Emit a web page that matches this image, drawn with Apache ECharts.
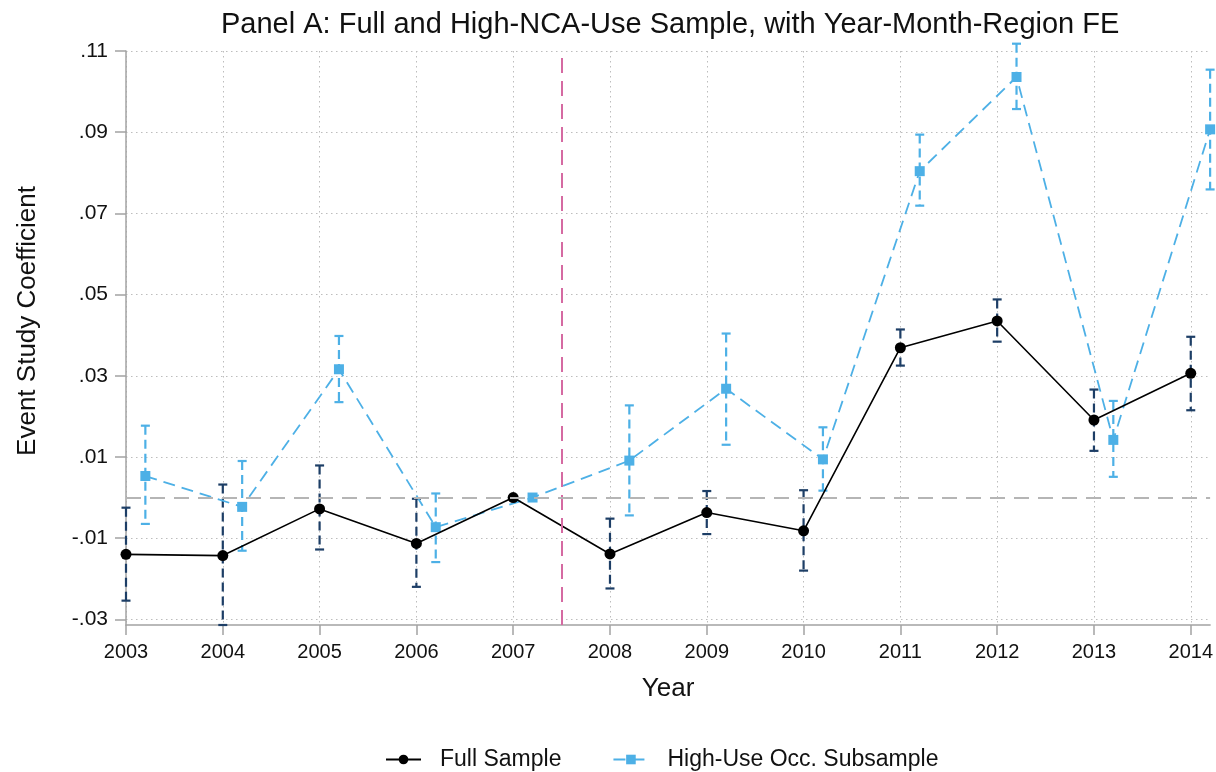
<!DOCTYPE html>
<html><head><meta charset="utf-8">
<script src="https://cdn.jsdelivr.net/npm/echarts@6/dist/echarts.min.js"></script>
<style>html,body{margin:0;padding:0;background:#fff}#c{width:1216px;height:772px}</style>
</head><body><div id="c"></div>
<script>
const years = [2003,2004,2005,2006,2007,2008,2009,2010,2011,2012,2013,2014];
const fullCoef = [-0.0140,-0.0143,-0.0028,-0.0113,0.0000,-0.0139,-0.0037,-0.0082,0.0369,0.0435,0.0191,0.0306];
const fullLo   = [-0.0254,-0.0314,-0.0128,-0.0220,null,-0.0224,-0.0090,-0.0180,0.0325,0.0384,0.0115,0.0215];
const fullHi   = [-0.0025,0.0032,0.0079,-0.0003,null,-0.0052,0.0016,0.0018,0.0414,0.0488,0.0266,0.0396];
const highCoef = [0.0053,-0.0023,0.0316,-0.0073,0.0000,0.0091,0.0268,0.0094,0.0804,0.1036,0.0142,0.0907];
const highLo   = [-0.0065,-0.0131,0.0235,-0.0159,null,-0.0044,0.0130,0.0017,0.0719,0.0957,0.0051,0.0759];
const highHi   = [0.0177,0.0090,0.0398,0.0010,null,0.0227,0.0404,0.0173,0.0894,0.1118,0.0238,0.1054];
const yTicks = [-0.03,-0.01,0.01,0.03,0.05,0.07,0.09,0.11];
const xTicks = years;
const highOffset = 0.2;
const treatLine = 2007.5;
const seriesNames = ['Full Sample','High-Use Occ. Subsample'];

const FONT = '"Liberation Sans", Arial, Helvetica, sans-serif';
const BLUE = '#4db0e6', NAVY = '#1d3e66', PINK = '#d56aa2';

const fullPts = years.map((y,i)=>[y, fullCoef[i]]);
const highPts = years.map((y,i)=>[y+highOffset, highCoef[i]]);
const fullErr = years.map((y,i)=>[y, fullLo[i], fullHi[i]]).filter(d=>d[1]!=null);
const highErr = years.map((y,i)=>[y+highOffset, highLo[i], highHi[i]]).filter(d=>d[1]!=null);

function errRender(color){
  return function(params, api){
    const x = api.value(0), lo = api.value(1), hi = api.value(2);
    const t = api.coord([x, hi]), b = api.coord([x, lo]);
    const w = 4.5;
    return {type:'group', children:[
      {type:'line', shape:{x1:t[0],y1:t[1],x2:b[0],y2:b[1]}, style:{stroke:color,lineWidth:2.2,lineDash:[9,5]}},
      {type:'line', shape:{x1:t[0]-w,y1:t[1],x2:t[0]+w,y2:t[1]}, style:{stroke:color,lineWidth:2.2}},
      {type:'line', shape:{x1:b[0]-w,y1:b[1],x2:b[0]+w,y2:b[1]}, style:{stroke:color,lineWidth:2.2}}
    ]};
  };
}

const chart = echarts.init(document.getElementById('c'), null, {renderer:'canvas'});
chart.setOption({
  animation:false,
  backgroundColor:'#fff',
  textStyle:{fontFamily:FONT},
  title:{text:'Panel A: Full and High-NCA-Use Sample, with Year-Month-Region FE', left:221, top:10, padding:0,
    textStyle:{fontFamily:FONT, fontSize:29, fontWeight:'normal', color:'#111'}},
  graphic:[{type:'text', x:28, y:321, rotation:Math.PI/2,
    style:{text:'Event Study Coefficient', fontFamily:FONT, fontSize:26, fill:'#111', textAlign:'center', textVerticalAlign:'middle'}}],
  grid:{left:126, right:4, top:51, bottom:147},
  legend:{left:385, top:748, padding:0, itemWidth:35, itemHeight:12, itemGap:51,
    textStyle:{fontFamily:FONT, fontSize:23, color:'#111', padding:[0,0,0,14]},
    data:seriesNames},
  xAxis:{type:'value', min:2003, max:2014.2,
    name:'Year', nameLocation:'middle', nameGap:51, nameTextStyle:{fontFamily:FONT, fontSize:26, color:'#111'},
    axisLine:{show:true, onZero:false, lineStyle:{color:'#a3a3a3', width:1.5}},
    axisTick:{show:true, customValues:xTicks, length:10, lineStyle:{color:'#a3a3a3', width:1.5}},
    axisLabel:{customValues:xTicks, fontSize:20, color:'#111', margin:17, formatter:v=>String(v)},
    splitLine:{show:true, lineStyle:{color:'#bdbdbd', width:1, type:[1.5,3.5]}}},
  yAxis:{type:'value', min:-0.0314, max:0.11,
    axisLine:{show:true, onZero:false, lineStyle:{color:'#a3a3a3', width:1.5}},
    axisTick:{show:true, customValues:yTicks, length:11, lineStyle:{color:'#a3a3a3', width:1.5}},
    axisLabel:{customValues:yTicks, fontSize:21, color:'#111', margin:18,
      formatter:v=>{const s=(+v).toFixed(2); return s.replace('0.','.');}},
    splitLine:{show:true, lineStyle:{color:'#bdbdbd', width:1, type:[1.5,3.5]}}},
  series:[
    {type:'custom', name:'fullErr', renderItem:errRender(NAVY), data:fullErr, encode:{x:0,y:[1,2]}, clip:false, z:2, silent:true},
    {type:'custom', name:'highErr', renderItem:errRender(BLUE), data:highErr, encode:{x:0,y:[1,2]}, clip:false, z:2, silent:true},
    {type:'line', name:seriesNames[0], data:fullPts, symbol:'circle', symbolSize:11, z:4,
      itemStyle:{color:'#000'}, lineStyle:{color:'#000', width:1.6},
      markLine:{silent:true, symbol:'none', label:{show:false},
        data:[{xAxis:treatLine, lineStyle:{color:PINK, width:2, type:[15,8]}},
              {yAxis:0, lineStyle:{color:'#b5b5b5', width:1.8, type:[15,9]}}]}},
    {type:'line', name:seriesNames[1], data:highPts, symbol:'rect', symbolSize:10, z:3,
      itemStyle:{color:BLUE}, lineStyle:{color:BLUE, width:1.8, type:[12,7]}}
  ]
});
</script></body></html>
